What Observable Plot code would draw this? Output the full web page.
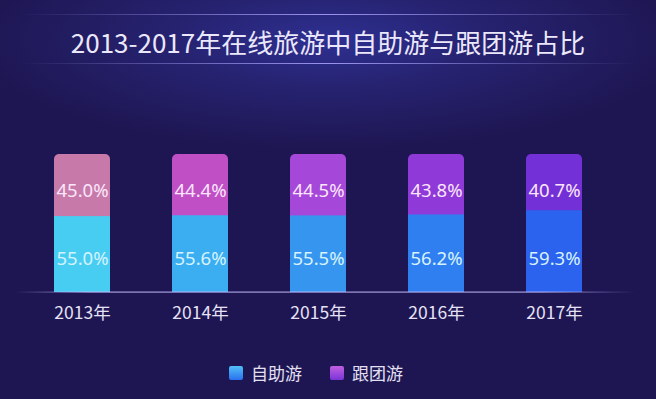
<!DOCTYPE html>
<html><head><meta charset="utf-8">
<script src="https://cdn.jsdelivr.net/npm/d3@7"></script>
<script src="https://cdn.jsdelivr.net/npm/@observablehq/plot@0.6"></script>
<style>
html,body{margin:0;padding:0;}
body{width:656px;height:399px;overflow:hidden;font-family:"Noto Sans CJK SC","Noto Sans",sans-serif;}
#wrap{position:relative;width:656px;height:399px;
 background:radial-gradient(ellipse 360px 110px at 328px 40px,#2e3092 0%,#26226f 45%,rgba(30,22,82,0) 100%),#1e1652;}
#title{position:absolute;left:0;top:22px;width:656px;text-align:center;color:#ece8fb;font-size:26px;line-height:40px;letter-spacing:0px;}
.hl{position:absolute;left:20px;width:616px;height:1px;background:linear-gradient(90deg,rgba(160,150,255,0),rgba(175,165,255,0.85) 50%,rgba(160,150,255,0));}
#legend{position:absolute;top:361px;left:0;width:656px;display:flex;justify-content:center;gap:28px;color:#e4e0f4;font-size:17px;line-height:24px;margin-left:-12px;}
#legend span{display:flex;align-items:center;}
#legend i{display:inline-block;width:14px;height:14px;border-radius:2px;margin-right:8px;}
#chart{position:absolute;left:0;top:0;}
</style></head>
<body><div id="wrap">
<div class="hl" style="top:14px"></div>
<div id="title">2013-2017年在线旅游中自助游与跟团游占比</div>
<div class="hl" style="top:63px"></div>
<div id="chart"></div>
<div id="legend"></div>
</div>
<script>
const years = ["2013年","2014年","2015年","2016年","2017年"];
const selfTour = [55.0, 55.6, 55.5, 56.2, 59.3];
const groupTour = [45.0, 44.4, 44.5, 43.8, 40.7];
const seriesNames = ["自助游","跟团游"];
const selfColors = ["#47cdf2","#3aaef1","#3696ef","#2f7ff0","#2b62ee"];
const groupColors = ["#c77aa9","#c04fc6","#a547d9","#8f39d8","#7430d7"];

const rows = years.map((y,i)=>({year:y, self:selfTour[i], group:groupTour[i], sc:selfColors[i], gc:groupColors[i]}));

const plot = Plot.plot({
  width:656, height:399,
  marginTop:154, marginBottom:107, marginLeft:0, marginRight:0,
  style:{background:"transparent", overflow:"visible"},
  x:{domain:years, range:[21.75,614.25], paddingInner:0.527, paddingOuter:0.2635, align:0.5, axis:null},
  y:{domain:[0,100], axis:null},
  marks:[
    Plot.barY(rows,{x:"year", y1:0, y2:100, fill:d=>d.gc, rx:5}),
    Plot.barY(rows,{x:"year", y1:0, y2:"self", fill:d=>d.sc}),
    Plot.text(rows,{x:"year", y:75, dy:2, text:d=>d.group.toFixed(1)+"%", fill:"#fbe6fb", fontSize:18.5, fontFamily:"Noto Sans, sans-serif"}),
    Plot.text(rows,{x:"year", y:25, dy:1, text:d=>d.self.toFixed(1)+"%", fill:"#d6f3ff", fontSize:18.5, fontFamily:"Noto Sans, sans-serif"}),
    Plot.text(rows,{x:"year", y:0, dy:21, text:"year", fill:"#e6e2f6", fontSize:17.5, fontFamily:"Noto Sans CJK SC, sans-serif"})
  ]
});
document.getElementById("chart").appendChild(plot);

// baseline with fade
const svg = d3.select(plot);
const defs = svg.append("defs");
const g = defs.append("linearGradient").attr("id","axisfade").attr("x1","0").attr("x2","1");
g.append("stop").attr("offset","0").attr("stop-color","#b8b0ff").attr("stop-opacity",0);
g.append("stop").attr("offset","0.12").attr("stop-color","#c8c0ff").attr("stop-opacity",0.8);
g.append("stop").attr("offset","0.85").attr("stop-color","#c8c0ff").attr("stop-opacity",0.8);
g.append("stop").attr("offset","1").attr("stop-color","#b8b0ff").attr("stop-opacity",0);
svg.append("rect").attr("x",15).attr("y",291.5).attr("width",620).attr("height",1.2).attr("fill","url(#axisfade)");

const leg = document.getElementById("legend");
[[seriesNames[0],"linear-gradient(180deg,#52c0f8,#2a70ee)"],[seriesNames[1],"linear-gradient(180deg,#c060e0,#7a34d8)"]].forEach(([n,bg])=>{
  const s=document.createElement("span");
  s.innerHTML=`<i style="background:${bg}"></i>${n}`;
  leg.appendChild(s);
});
</script>
</body></html>
